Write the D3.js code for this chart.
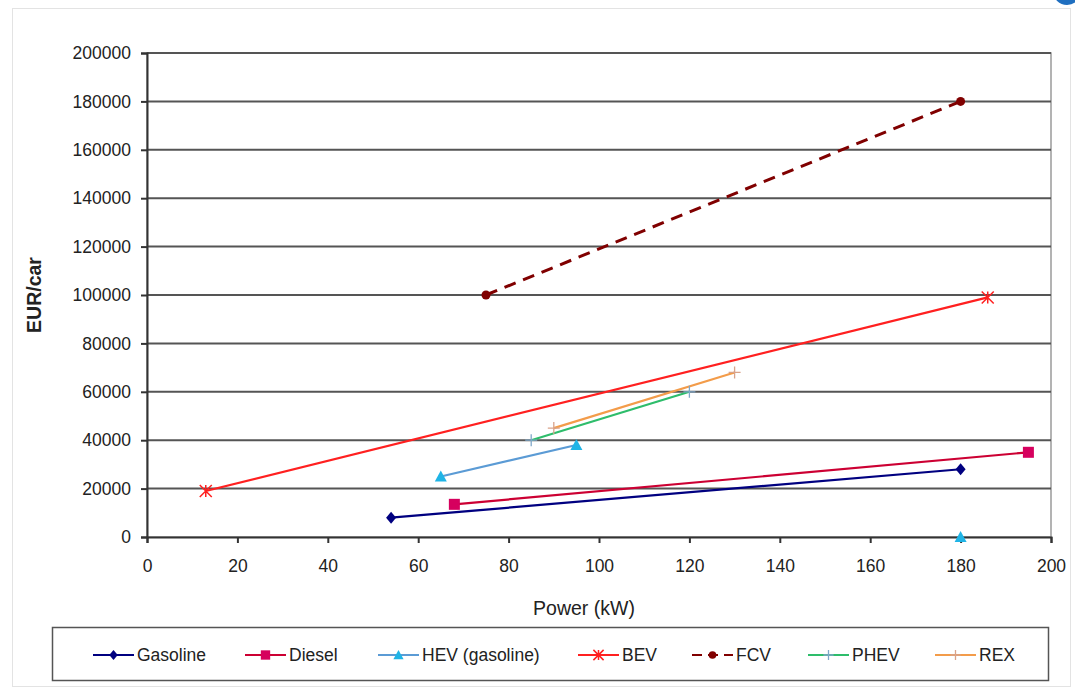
<!DOCTYPE html>
<html>
<head>
<meta charset="utf-8">
<script src="https://cdn.jsdelivr.net/npm/d3@7"></script>
<style>
  html, body { margin: 0; padding: 0; background: #fff; }
  svg { display: block; font-family: "Liberation Sans", Arial, sans-serif; }
</style>
</head>
<body>
<svg id="chart" width="1075" height="691"></svg>
<script>
// Vehicle cost vs. power, by powertrain
const seriesNames = ["Gasoline", "Diesel", "HEV (gasoline)", "BEV", "FCV", "PHEV", "REX"];
const gasoline = [[54, 8000], [180, 28000]];
const diesel   = [[68, 13500], [195, 35000]];
const hev      = [[65, 25000], [95, 38000], null, [180, 0]];
const bev      = [[13, 19000], [186, 99000]];
const fcv      = [[75, 100000], [180, 180000]];
const phev     = [[85, 40000], [120, 60000]];
const rex      = [[90, 45000], [130, 68000]];
const xTicks = [0, 20, 40, 60, 80, 100, 120, 140, 160, 180, 200];
const yTicks = [0, 20000, 40000, 60000, 80000, 100000, 120000, 140000, 160000, 180000, 200000];

const styles = [
  { data: gasoline, color: "#000080", marker: "diamond", dash: null },
  { data: diesel,   color: "#cc0033", marker: "square",  dash: null, mcolor: "#d6005e" },
  { data: hev,      color: "#5b9bd5", marker: "triangle", dash: null, mcolor: "#1fb4e6" },
  { data: bev,      color: "#ff2020", marker: "star",    dash: null },
  { data: fcv,      color: "#800000", marker: "circle",  dash: "12,8", width: 3 },
  { data: phev,     color: "#2ebd6b", marker: "plus",    dash: null, mcolor: "#7fa7c9" },
  { data: rex,      color: "#f39c4a", marker: "plus",    dash: null, mcolor: "#d9a38a" }
];

const svg = d3.select("#chart");

// outer chart frame
svg.append("rect").attr("x", 12.5).attr("y", 8.5).attr("width", 1058).attr("height", 678)
  .attr("fill", "none").attr("stroke", "#e3e3e3");
// corner badge
svg.append("circle").attr("cx", 1067).attr("cy", -9).attr("r", 14).attr("fill", "#1f6fc0");

const x = d3.scaleLinear().domain([0, 200]).range([147, 1051]);
const y = d3.scaleLinear().domain([0, 200000]).range([537, 53]);

// plot-area frame
svg.append("rect").attr("x", 147).attr("y", 53).attr("width", 904).attr("height", 484)
  .attr("fill", "none").attr("stroke", "#9a9a9a").attr("stroke-width", 1.5);

// horizontal gridlines
svg.append("g").selectAll("line").data(yTicks.filter(d => d > 0)).join("line")
  .attr("x1", 147).attr("x2", 1051)
  .attr("y1", d => y(d)).attr("y2", d => y(d))
  .attr("stroke", "#555").attr("stroke-width", 2);

// axes
const xAxis = svg.append("g").attr("transform", "translate(0,537)")
  .call(d3.axisBottom(x).tickValues(xTicks).tickSize(6).tickPadding(17).tickFormat(d3.format("d")));
const yAxis = svg.append("g").attr("transform", "translate(147,0)")
  .call(d3.axisLeft(y).tickValues(yTicks).tickSize(6).tickPadding(10).tickFormat(d3.format("d")));
[xAxis, yAxis].forEach(a => {
  a.select(".domain").attr("stroke", "#333").attr("stroke-width", 2);
  a.selectAll(".tick line").attr("stroke", "#333").attr("stroke-width", 2);
  a.selectAll(".tick text").attr("fill", "#222").style("font-size", "17.5px")
    .style("font-family", "'Liberation Sans', Arial, sans-serif");
});
yAxis.selectAll(".tick text").attr("x", -16);

// axis titles
svg.append("text").attr("x", 584).attr("y", 615).attr("text-anchor", "middle")
  .style("font-size", "19.5px").attr("fill", "#222").text("Power (kW)");
svg.append("text").attr("transform", "translate(41,295) rotate(-90)").attr("text-anchor", "middle")
  .style("font-size", "19.5px").style("font-weight", "bold").attr("fill", "#222").text("EUR/car");

// marker drawing
function drawMarker(g, type, cx, cy, color, s) {
  s = s || 1;
  if (type === "diamond") {
    g.append("path").attr("d", `M${cx},${cy - 6 * s}L${cx + 5 * s},${cy}L${cx},${cy + 6 * s}L${cx - 5 * s},${cy}Z`).attr("fill", color);
  } else if (type === "square") {
    g.append("rect").attr("x", cx - 5.5 * s).attr("y", cy - 5.5 * s).attr("width", 11 * s).attr("height", 11 * s).attr("fill", color);
  } else if (type === "triangle") {
    g.append("path").attr("d", `M${cx},${cy - 6 * s}L${cx + 6 * s},${cy + 5 * s}L${cx - 6 * s},${cy + 5 * s}Z`).attr("fill", color);
  } else if (type === "circle") {
    g.append("circle").attr("cx", cx).attr("cy", cy).attr("r", 4.5 * s).attr("fill", color);
  } else if (type === "star") {
    const r = 6 * s;
    g.append("path").attr("d",
      `M${cx - r},${cy - r}L${cx + r},${cy + r}M${cx - r},${cy + r}L${cx + r},${cy - r}M${cx},${cy - r}L${cx},${cy + r}`)
      .attr("stroke", color).attr("stroke-width", 1.5).attr("fill", "none");
  } else if (type === "plus") {
    const r = 6 * s;
    g.append("path").attr("d", `M${cx - r},${cy}L${cx + r},${cy}M${cx},${cy - r}L${cx},${cy + r}`)
      .attr("stroke", color).attr("stroke-width", 1.3).attr("fill", "none");
  }
}

// series lines and markers
const line = d3.line().defined(d => d !== null).x(d => x(d[0])).y(d => y(d[1]));
const plot = svg.append("g");
styles.forEach(s => {
  plot.append("path").datum(s.data).attr("d", line)
    .attr("fill", "none").attr("stroke", s.color).attr("stroke-width", s.width || 2.2)
    .attr("stroke-dasharray", s.dash);
});
styles.forEach(s => {
  s.data.filter(d => d !== null).forEach(d => drawMarker(plot, s.marker, x(d[0]), y(d[1]), s.mcolor || s.color));
});

// legend
svg.append("rect").attr("x", 52.5).attr("y", 627.5).attr("width", 996).attr("height", 53)
  .attr("fill", "#fff").attr("stroke", "#555").attr("stroke-width", 1.5);
const legendX = [93, 245, 378, 578, 692, 808, 935];
const lg = svg.append("g");
styles.forEach((s, i) => {
  const lx = legendX[i], ly = 655;
  lg.append("line").attr("x1", lx).attr("x2", lx + 41).attr("y1", ly).attr("y2", ly)
    .attr("stroke", s.color).attr("stroke-width", 2.2).attr("stroke-dasharray", s.dash ? "10,6" : null);
  drawMarker(lg, s.marker, lx + 20.5, ly, s.mcolor || s.color, 0.85);
  lg.append("text").attr("x", lx + 44).attr("y", ly).attr("dy", "0.35em")
    .style("font-size", "17.5px").attr("fill", "#222").text(seriesNames[i]);
});
</script>
</body>
</html>
